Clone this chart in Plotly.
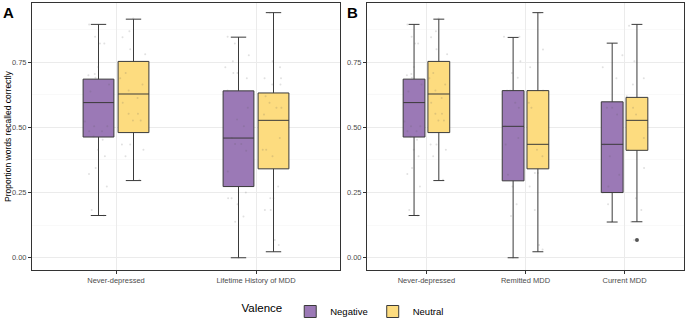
import plotly.graph_objects as go

# ---------------- data ----------------
groups_a = ["Never-depressed", "Lifetime History of MDD"]
groups_b = ["Never-depressed", "Remitted MDD", "Current MDD"]
valences = ["Negative", "Neutral"]
y_ticks = [0.00, 0.25, 0.50, 0.75]
y_tick_labels = ["0.00", "0.25", "0.50", "0.75"]

# box statistics, panel A (Never-depressed, Lifetime History of MDD)
a_neg_low = [0.162, 0.000]
a_neg_q1 = [0.463, 0.273]
a_neg_med = [0.595, 0.459]
a_neg_q3 = [0.685, 0.640]
a_neg_high = [0.895, 0.846]

a_neu_low = [0.296, 0.023]
a_neu_q1 = [0.480, 0.341]
a_neu_med = [0.628, 0.527]
a_neu_q3 = [0.753, 0.632]
a_neu_high = [0.915, 0.940]

# box statistics, panel B (Never-depressed, Remitted MDD, Current MDD)
b_neg_low = [0.162, 0.000, 0.137]
b_neg_q1 = [0.463, 0.295, 0.250]
b_neg_med = [0.595, 0.504, 0.435]
b_neg_q3 = [0.685, 0.641, 0.598]
b_neg_high = [0.895, 0.845, 0.823]

b_neu_low = [0.296, 0.023, 0.138]
b_neu_q1 = [0.480, 0.341, 0.412]
b_neu_med = [0.628, 0.435, 0.527]
b_neu_q3 = [0.753, 0.641, 0.615]
b_neu_high = [0.915, 0.940, 0.895]

# outlier (Current MDD, Neutral)
outlier_group = ["Current MDD"]
outlier_value = [0.068]

never_neg_pts = [0.895, 0.848, 0.822, 0.822, 0.732, 0.705, 0.690, 0.700, 0.664, 0.638,
                 0.504, 0.485, 0.523, 0.504, 0.485, 0.453, 0.465, 0.414, 0.389, 0.344,
                 0.321, 0.273, 0.183, 0.162]
never_neu_pts = [0.918, 0.869, 0.846, 0.800, 0.780, 0.709, 0.688, 0.664, 0.641, 0.613,
                 0.594, 0.552, 0.552, 0.526, 0.526, 0.434, 0.434, 0.414, 0.389, 0.299]
life_neg_pts = [0.848, 0.822, 0.777, 0.754, 0.731, 0.709, 0.688, 0.709, 0.641, 0.575,
                0.530, 0.504, 0.459, 0.436, 0.436, 0.410, 0.331, 0.250, 0.228, 0.228,
                0.205, 0.158, 0.138, 0.000]
life_neu_pts = [0.940, 0.754, 0.731, 0.688, 0.688, 0.664, 0.664, 0.619, 0.594, 0.575,
                0.575, 0.549, 0.459, 0.414, 0.389, 0.414, 0.273, 0.228, 0.228, 0.183,
                0.183, 0.068, 0.049]
rem_neg_pts = [0.848, 0.848, 0.754, 0.709, 0.690, 0.641, 0.641, 0.594, 0.575, 0.504,
               0.459, 0.434, 0.318, 0.273, 0.205, 0.160, 0.000]
rem_neu_pts = [0.940, 0.799, 0.731, 0.641, 0.594, 0.575, 0.414, 0.389, 0.325, 0.325,
               0.273, 0.183, 0.049, 0.032]
cur_neg_pts = [0.777, 0.731, 0.688, 0.575, 0.575, 0.549, 0.434, 0.389, 0.318, 0.273,
               0.250, 0.205, 0.138]
cur_neu_pts = [0.890, 0.754, 0.688, 0.664, 0.619, 0.575, 0.549, 0.459, 0.414, 0.344,
               0.228, 0.183, 0.138, 0.068]

# ---------------- style ----------------
FONT = "Liberation Sans, Arial, sans-serif"
fills = {"Negative": "#9b79b6", "Neutral": "#fddc7f"}
box_line = "#3a3a3a"
W, H = 688, 325

fig = go.Figure()

panels = [
    ("x", "y", groups_a,
     {"Negative": (a_neg_low, a_neg_q1, a_neg_med, a_neg_q3, a_neg_high),
      "Neutral": (a_neu_low, a_neu_q1, a_neu_med, a_neu_q3, a_neu_high)},
     {"Negative": [(groups_a[0], never_neg_pts), (groups_a[1], life_neg_pts)],
      "Neutral": [(groups_a[0], never_neu_pts), (groups_a[1], life_neu_pts)]},
     True),
    ("x2", "y2", groups_b,
     {"Negative": (b_neg_low, b_neg_q1, b_neg_med, b_neg_q3, b_neg_high),
      "Neutral": (b_neu_low, b_neu_q1, b_neu_med, b_neu_q3, b_neu_high)},
     {"Negative": [(groups_b[0], never_neg_pts), (groups_b[1], rem_neg_pts), (groups_b[2], cur_neg_pts)],
      "Neutral": [(groups_b[0], never_neu_pts), (groups_b[1], rem_neu_pts), (groups_b[2], cur_neu_pts)]},
     False),
]

for xa, ya, cats, stats, pts, show_leg in panels:
    for val in valences:
        lo, q1, med, q3, hi = stats[val]
        fig.add_trace(go.Box(
            x=cats, q1=q1, median=med, q3=q3, lowerfence=lo, upperfence=hi,
            name=val, legendgroup=val, showlegend=show_leg, offsetgroup=val,
            fillcolor=fills[val], line=dict(color=box_line, width=1),
            boxpoints=False, xaxis=xa, yaxis=ya, hoverinfo="skip",
        ))
    for val in valences:
        xs, ys = [], []
        for cat, vals in pts[val]:
            xs += [cat] * len(vals)
            ys += vals
        fig.add_trace(go.Box(
            x=xs, y=ys, name=val, legendgroup=val, showlegend=False, offsetgroup=val,
            fillcolor="rgba(0,0,0,0)", line=dict(color="rgba(0,0,0,0)", width=0),
            boxpoints="all", jitter=1.0, pointpos=0,
            marker=dict(size=2, color="rgba(90,90,90,0.18)"),
            xaxis=xa, yaxis=ya, hoverinfo="skip",
        ))

# outlier point in panel B
fig.add_trace(go.Box(
    x=outlier_group, y=outlier_value, name="Neutral", legendgroup="Neutral",
    showlegend=False, offsetgroup="Neutral",
    fillcolor="rgba(0,0,0,0)", line=dict(color="rgba(0,0,0,0)", width=0),
    boxpoints="all", jitter=0, pointpos=0,
    marker=dict(size=4, color="#555555"),
    xaxis="x2", yaxis="y2", hoverinfo="skip",
))

y_dom = [1 - 270 / H, 1 - 3 / H]
yrange = [-0.047, 0.977]

def xaxis_cfg(dom, n):
    return dict(
        domain=dom, type="category", range=[-0.6, n - 0.4], automargin=False,
        showgrid=True, gridcolor="#ebebeb", gridwidth=1,
        showline=True, mirror=True, linecolor="#333333", linewidth=1,
        ticks="outside", ticklen=3, tickcolor="#333333", tickwidth=1,
        tickfont=dict(family=FONT, size=7.5, color="#4d4d4d"),
        zeroline=False, fixedrange=True,
    )

def yaxis_cfg(anchor):
    return dict(
        domain=y_dom, anchor=anchor, range=yrange, automargin=False,
        tickvals=y_ticks, ticktext=y_tick_labels,
        showgrid=True, gridcolor="#ebebeb", gridwidth=1,
        minor=dict(tickvals=[0.125, 0.375, 0.625, 0.875], showgrid=True,
                   gridcolor="#f5f5f5", gridwidth=0.6, ticks=""),
        showline=True, mirror=True, linecolor="#333333", linewidth=1,
        ticks="outside", ticklen=3, tickcolor="#333333", tickwidth=1,
        tickfont=dict(family=FONT, size=7.5, color="#4d4d4d"),
        zeroline=False, fixedrange=True,
    )

fig.update_layout(
    width=W, height=H,
    margin=dict(l=0, r=0, t=0, b=0, autoexpand=False),
    paper_bgcolor="white", plot_bgcolor="white",
    font=dict(family=FONT, color="#000000"),
    boxmode="group", boxgap=0.5, boxgroupgap=0.12,
    xaxis=dict(xaxis_cfg([32 / W, 340 / W], len(groups_a)), anchor="y"),
    yaxis=yaxis_cfg("x"),
    xaxis2=dict(xaxis_cfg([367 / W, 684 / W], len(groups_b)), anchor="y2"),
    yaxis2=yaxis_cfg("x2"),
    legend=dict(
        orientation="h", x=0.5, xanchor="center", y=1 - 311.5 / H, yanchor="middle",
        title=dict(text="Valence", side="left", font=dict(family=FONT, size=11.5)),
        font=dict(family=FONT, size=9.5), bgcolor="rgba(0,0,0,0)",
        itemwidth=30,
    ),
    showlegend=True,
    annotations=[
        dict(text="<b>A</b>", xref="paper", yref="paper", x=1 / W, y=1 - 2 / H,
             xanchor="left", yanchor="top", showarrow=False,
             font=dict(family=FONT, size=15, color="black")),
        dict(text="<b>B</b>", xref="paper", yref="paper", x=345 / W, y=1 - 2 / H,
             xanchor="left", yanchor="top", showarrow=False,
             font=dict(family=FONT, size=15, color="black")),
        dict(text="Proportion words recalled correctly", xref="paper", yref="paper",
             x=8 / W, y=1 - 136 / H, textangle=-90, xanchor="center", yanchor="middle",
             showarrow=False, font=dict(family=FONT, size=8.5, color="black")),
    ],
)

fig.write_html(
    "out.html",
    config={"displayModeBar": False, "staticPlot": True},
    post_script="document.body.style.margin='0';document.body.style.padding='0';"
                "document.body.style.overflow='hidden';",
)
